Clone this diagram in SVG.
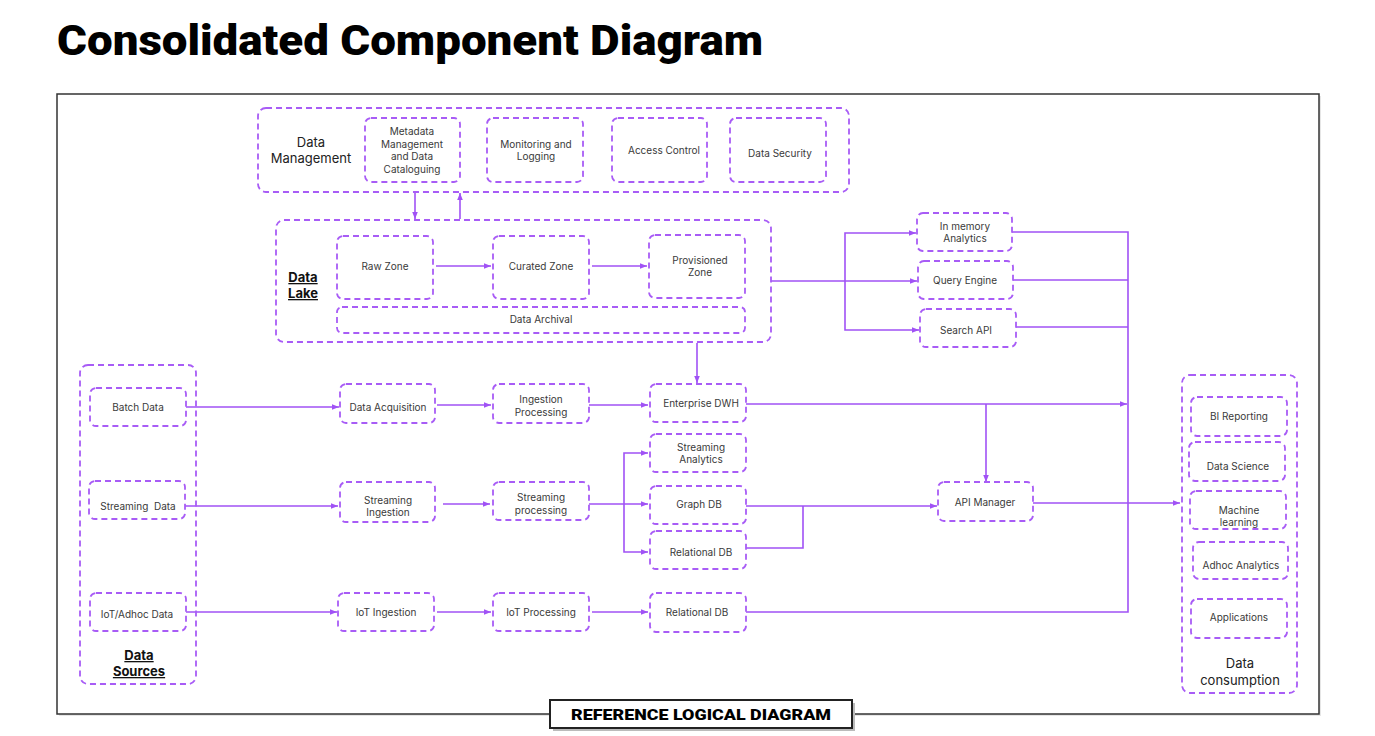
<svg xmlns="http://www.w3.org/2000/svg" width="1375" height="736" viewBox="0 0 1375 736">
<style>
.box{fill:none;stroke:#A85CF6;stroke-width:1.8;stroke-dasharray:6 4}
.ln{fill:none;stroke:#A052F5;stroke-width:1.6}
.ar{marker-end:url(#ah)}
.t{font-family:Inter,"Liberation Sans",sans-serif;font-size:10px;fill:#3a3a3a;text-anchor:middle}
.g{font-family:Inter,"Liberation Sans",sans-serif;font-size:13px;fill:#222;text-anchor:middle}
.gb{font-family:Inter,"Liberation Sans",sans-serif;font-size:13px;font-weight:700;fill:#111;text-anchor:middle;text-decoration:underline}
</style>
<defs>
<marker id="ah" viewBox="0 0 10 10" refX="10" refY="5" markerWidth="7" markerHeight="7" markerUnits="userSpaceOnUse" orient="auto"><path d="M0,1 L10,5 L0,9 z" fill="#A052F5"/></marker>
</defs>
<rect width="1375" height="736" fill="#fff"/>
<text x="57" y="55" font-family="Roboto,'Liberation Sans',sans-serif" font-size="42" font-weight="900" fill="#000" textLength="706" lengthAdjust="spacingAndGlyphs">Consolidated Component Diagram</text>
<g id="frame">
<rect x="59" y="96" width="1262" height="620" fill="#e6e6e6"/>
<rect x="57" y="94" width="1262" height="620" fill="#fff" stroke="#333" stroke-width="1.5"/>
</g>
<g id="connectors">
<path class="ln ar" d="M415,192 V219"/>
<path class="ln ar" d="M460,219 V193"/>
<path class="ln ar" d="M436,266 H491"/>
<path class="ln ar" d="M592,266 H647"/>
<path class="ln ar" d="M771,281 H917"/>
<path class="ln ar" d="M845,281 V233 H916"/>
<path class="ln ar" d="M845,281 V330 H919"/>
<path class="ln" d="M1012,232 H1128 V612 H746"/>
<path class="ln" d="M1013,280 H1128"/>
<path class="ln" d="M1016,327 H1128"/>
<path class="ln ar" d="M697,343 V383"/>
<path class="ln ar" d="M746,404 H1127"/>
<path class="ln ar" d="M986,404 V482"/>
<path class="ln ar" d="M186,407 H339"/>
<path class="ln ar" d="M437,405 H491"/>
<path class="ln ar" d="M589,405 H648"/>
<path class="ln ar" d="M185,506 H338"/>
<path class="ln ar" d="M443,504 H490"/>
<path class="ln ar" d="M589,504 H648"/>
<path class="ln ar" d="M624,504 V453 H648"/>
<path class="ln ar" d="M624,504 V552 H648"/>
<path class="ln ar" d="M746,506 H937"/>
<path class="ln" d="M746,548 H803 V506"/>
<path class="ln ar" d="M1033,503 H1180"/>
<path class="ln ar" d="M186,612 H337"/>
<path class="ln ar" d="M437,612 H491"/>
<path class="ln ar" d="M592,612 H648"/>
</g>
<g id="data-management">
<rect class="box" x="258" y="108" width="591" height="84" rx="8"/>
<text class="g"><tspan x="311" y="147">Data</tspan><tspan x="311" y="163">Management</tspan></text>
</g>
<g id="metadata"><rect class="box" x="365" y="118" width="95" height="64" rx="6"/>
<text class="t"><tspan x="412" y="135">Metadata</tspan><tspan x="412" y="148">Management</tspan><tspan x="412" y="160">and Data</tspan><tspan x="412" y="173">Cataloguing</tspan></text></g>
<g id="monitoring"><rect class="box" x="487" y="118" width="96" height="64" rx="6"/>
<text class="t"><tspan x="536" y="148">Monitoring and</tspan><tspan x="536" y="160">Logging</tspan></text></g>
<g id="access-control"><rect class="box" x="612" y="118" width="95" height="64" rx="6"/>
<text class="t" x="664" y="154">Access Control</text></g>
<g id="data-security"><rect class="box" x="730" y="118" width="96" height="64" rx="6"/>
<text class="t" x="780" y="157">Data Security</text></g>
<g id="data-lake">
<rect class="box" x="276" y="220" width="495" height="122" rx="8"/>
<text class="gb"><tspan x="303" y="282">Data</tspan><tspan x="303" y="298">Lake</tspan></text>
</g>
<g id="raw-zone"><rect class="box" x="337" y="236" width="96" height="63" rx="6"/><text class="t" x="385" y="270">Raw Zone</text></g>
<g id="curated-zone"><rect class="box" x="493" y="236" width="96" height="63" rx="6"/><text class="t" x="541" y="270">Curated Zone</text></g>
<g id="provisioned-zone"><rect class="box" x="649" y="235" width="96" height="63" rx="6"/><text class="t"><tspan x="700" y="264">Provisioned</tspan><tspan x="700" y="276">Zone</tspan></text></g>
<g id="data-archival"><rect class="box" x="337" y="307" width="408" height="26" rx="5"/><text class="t" x="541" y="323">Data Archival</text></g>
<g id="in-memory"><rect class="box" x="917" y="213" width="95" height="38" rx="6"/><text class="t"><tspan x="965" y="230">In memory</tspan><tspan x="965" y="242">Analytics</tspan></text></g>
<g id="query-engine"><rect class="box" x="918" y="261" width="95" height="38" rx="6"/><text class="t" x="965" y="284">Query Engine</text></g>
<g id="search-api"><rect class="box" x="920" y="309" width="96" height="38" rx="6"/><text class="t" x="966" y="334">Search API</text></g>
<g id="data-sources">
<rect class="box" x="80" y="365" width="116" height="319" rx="8"/>
<text class="gb"><tspan x="139" y="660">Data</tspan><tspan x="139" y="676">Sources</tspan></text>
</g>
<g id="batch-data"><rect class="box" x="90" y="388" width="96" height="38" rx="6"/><text class="t" x="138" y="411">Batch Data</text></g>
<g id="streaming-data"><rect class="box" x="89" y="481" width="96" height="38" rx="6"/><text class="t" x="138" y="510" xml:space="preserve">Streaming  Data</text></g>
<g id="iot-data"><rect class="box" x="90" y="593" width="96" height="38" rx="6"/><text class="t" x="137" y="618">IoT/Adhoc Data</text></g>
<g id="data-acquisition"><rect class="box" x="340" y="384" width="95" height="39" rx="6"/><text class="t" x="388" y="411">Data Acquisition</text></g>
<g id="ingestion-processing"><rect class="box" x="493" y="384" width="96" height="39" rx="6"/><text class="t"><tspan x="541" y="403">Ingestion</tspan><tspan x="541" y="416">Processing</tspan></text></g>
<g id="streaming-ingestion"><rect class="box" x="340" y="482" width="95" height="40" rx="6"/><text class="t"><tspan x="388" y="504">Streaming</tspan><tspan x="388" y="516">Ingestion</tspan></text></g>
<g id="streaming-processing"><rect class="box" x="493" y="482" width="96" height="38" rx="6"/><text class="t"><tspan x="541" y="501">Streaming</tspan><tspan x="541" y="514">processing</tspan></text></g>
<g id="iot-ingestion"><rect class="box" x="338" y="593" width="96" height="38" rx="6"/><text class="t" x="386" y="616">IoT Ingestion</text></g>
<g id="iot-processing"><rect class="box" x="493" y="593" width="96" height="38" rx="6"/><text class="t" x="541" y="616">IoT Processing</text></g>
<g id="enterprise-dwh"><rect class="box" x="650" y="384" width="96" height="38" rx="6"/><text class="t" x="701" y="407">Enterprise DWH</text></g>
<g id="streaming-analytics"><rect class="box" x="650" y="434" width="96" height="38" rx="6"/><text class="t"><tspan x="701" y="451">Streaming</tspan><tspan x="701" y="463">Analytics</tspan></text></g>
<g id="graph-db"><rect class="box" x="650" y="486" width="96" height="38" rx="6"/><text class="t" x="699" y="508">Graph DB</text></g>
<g id="relational-db"><rect class="box" x="650" y="531" width="96" height="38" rx="6"/><text class="t" x="701" y="556">Relational DB</text></g>
<g id="relational-db-iot"><rect class="box" x="650" y="593" width="96" height="39" rx="6"/><text class="t" x="697" y="616">Relational DB</text></g>
<g id="api-manager"><rect class="box" x="938" y="482" width="95" height="39" rx="6"/><text class="t" x="985" y="506">API Manager</text></g>
<g id="data-consumption">
<rect class="box" x="1182" y="375" width="115" height="318" rx="8"/>
<text class="g"><tspan x="1240" y="668">Data</tspan><tspan x="1240" y="685">consumption</tspan></text>
</g>
<g id="bi-reporting"><rect class="box" x="1191" y="397" width="96" height="39" rx="6"/><text class="t" x="1239" y="420">BI Reporting</text></g>
<g id="data-science"><rect class="box" x="1189" y="442" width="96" height="39" rx="6"/><text class="t" x="1238" y="470">Data Science</text></g>
<g id="machine-learning"><rect class="box" x="1190" y="491" width="96" height="38" rx="6"/><text class="t"><tspan x="1239" y="514">Machine</tspan><tspan x="1239" y="526">learning</tspan></text></g>
<g id="adhoc-analytics"><rect class="box" x="1193" y="542" width="95" height="37" rx="6"/><text class="t" x="1241" y="569">Adhoc Analytics</text></g>
<g id="applications"><rect class="box" x="1191" y="599" width="96" height="39" rx="6"/><text class="t" x="1239" y="621">Applications</text></g>
<g id="reference-label">
<rect x="553" y="703" width="302" height="28" fill="#bbb"/>
<rect x="550" y="700" width="302" height="28" fill="#fff" stroke="#222" stroke-width="2"/>
<text x="701" y="720" font-family="Roboto,'Liberation Sans',sans-serif" font-size="15" font-weight="900" fill="#000" text-anchor="middle" textLength="260" lengthAdjust="spacingAndGlyphs">REFERENCE LOGICAL DIAGRAM</text>
</g>
</svg>
